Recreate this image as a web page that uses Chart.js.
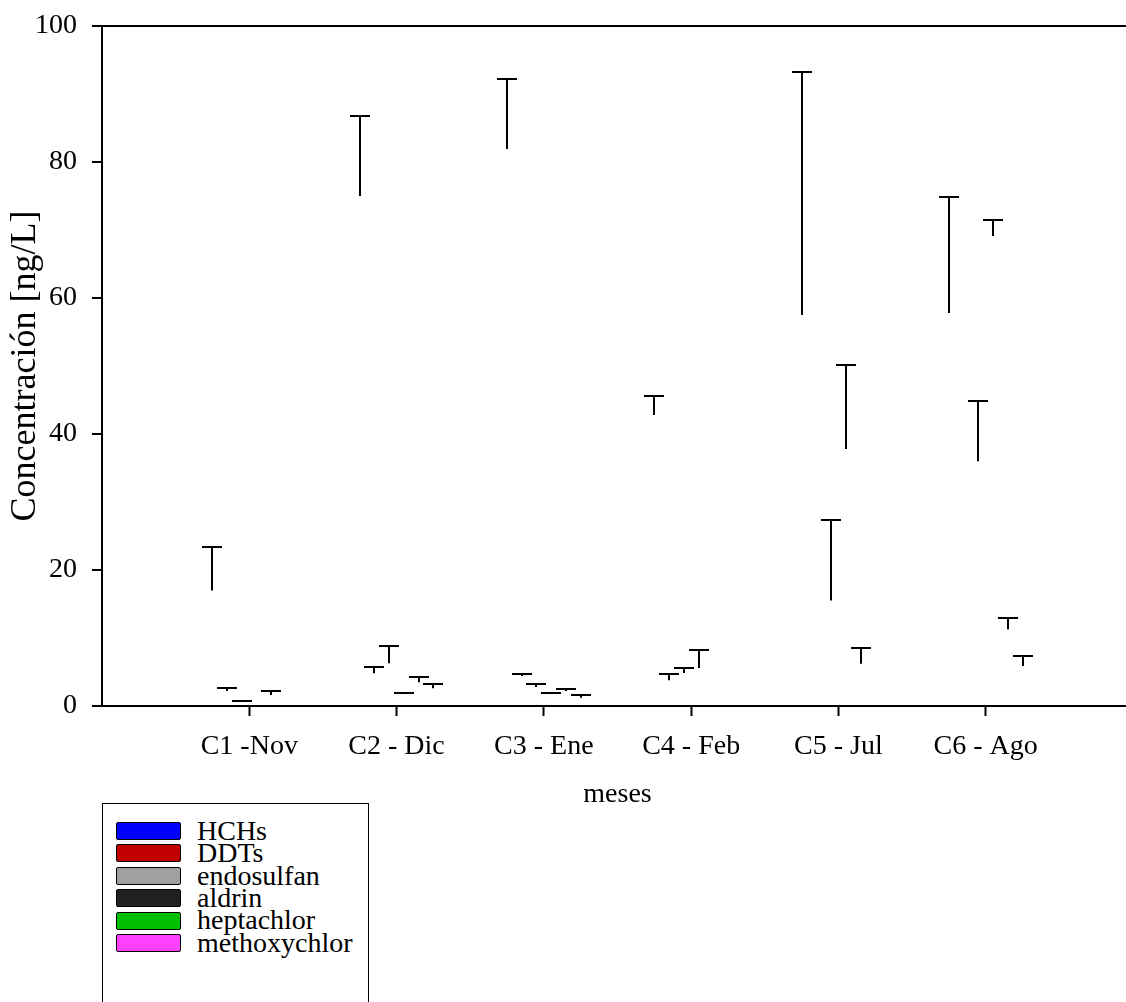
<!DOCTYPE html>
<html>
<head>
<meta charset="utf-8">
<script src="https://cdn.jsdelivr.net/npm/chart.js@4.4.1/dist/chart.umd.min.js"></script>
<style>
html,body{margin:0;padding:0;background:#fff;overflow:hidden;width:1126px;height:1002px;}
#wrap{position:relative;width:1133px;height:1002px;}
canvas{display:block;}
#legend{position:absolute;left:102px;top:803px;width:267px;height:240px;border:1px solid #000;box-sizing:border-box;font-family:'Liberation Serif',serif;font-size:28px;color:#000;background:#fff;}
.sw{position:absolute;left:13px;width:65px;height:18px;border:1.5px solid #000;box-sizing:border-box;border-radius:2px;}
.lb{position:absolute;left:94px;white-space:nowrap;line-height:28px;height:28px;}
</style>
</head>
<body>
<div id="wrap">
<canvas id="c" width="1133" height="1002"></canvas>
<div id="legend"></div>
</div>
<script>
// ---- data ----
const categories = ['C1 -Nov', 'C2 - Dic', 'C3 - Ene', 'C4 - Feb', 'C5 - Jul', 'C6 - Ago'];
const seriesNames = ['HCHs', 'DDTs', 'endosulfan', 'aldrin', 'heptachlor', 'methoxychlor'];
const seriesColors = ['#0000ff', '#c00000', '#a0a0a0', '#202020', '#00c000', '#ff40ff'];

const hchs            = [17.0, 75.0, 81.9, 42.8, 57.5, 57.8];
const hchsErr         = [6.4, 11.8, 10.3, 2.8, 35.7, 17.0];
const ddts            = [2.2, 4.8, 4.4, 3.8, null, null];
const ddtsErr         = [0.4, 1.0, 0.35, 0.9, 0, 0];
const endosulfan      = [0.6, 6.3, 2.8, 4.85, 15.5, 36.0];
const endosulfanErr   = [0.15, 2.5, 0.4, 0.75, 11.8, 8.9];
const aldrin          = [null, 1.9, 1.9, 5.6, 37.8, 69.1];
const aldrinErr       = [0, 0, 0, 2.7, 12.3, 2.4];
const heptachlor      = [1.6, 3.5, 2.2, null, 6.2, 11.3];
const heptachlorErr   = [0.6, 0.8, 0.25, 0, 2.3, 1.6];
const methoxychlor    = [null, 2.6, 1.2, null, null, 5.9];
const methoxychlorErr = [0, 0.7, 0.35, 0, 0, 1.4];

const yTicks = [0, 20, 40, 60, 80, 100];

const values = [hchs, ddts, endosulfan, aldrin, heptachlor, methoxychlor];
const errors = [hchsErr, ddtsErr, endosulfanErr, aldrinErr, heptachlorErr, methoxychlorErr];

// padded category axis: empty slot at both ends
const labels = ['', ...categories, ''];
const pad = a => [null, ...a, null];

const FONT = 'Liberation Serif';

const errorBars = {
  id: 'errorBars',
  afterDatasetsDraw(chart) {
    const ctx = chart.ctx, ys = chart.scales.y;
    ctx.save();
    ctx.strokeStyle = '#000';
    ctx.lineWidth = 2;
    chart.data.datasets.forEach((ds, i) => {
      const meta = chart.getDatasetMeta(i);
      meta.data.forEach((el, j) => {
        const v = ds.data[j], e = ds.err[j];
        if (v == null) return;
        const x = Math.round(el.x);
        const y0 = ys.getPixelForValue(v);
        const y1 = Math.round(ys.getPixelForValue(v + e));
        ctx.beginPath();
        ctx.moveTo(x, y0); ctx.lineTo(x, y1);
        ctx.moveTo(x - 10, y1); ctx.lineTo(x + 10, y1);
        ctx.stroke();
      });
    });
    ctx.restore();
  }
};

new Chart(document.getElementById('c'), {
  type: 'bar',
  data: {
    labels: labels,
    datasets: seriesNames.map((n, i) => ({
      label: n,
      data: pad(values[i]),
      err: pad(errors[i]),
      backgroundColor: 'rgba(0,0,0,0)',
      borderWidth: 0,
      categoryPercentage: 0.6,
      barPercentage: 1
    }))
  },
  options: {
    responsive: false,
    animation: false,
    devicePixelRatio: 1,
    layout: { padding: { top: 26, right: 0, bottom: 191, left: 0 } },
    plugins: { legend: { display: false }, tooltip: { enabled: false } },
    scales: {
      x: {
        offset: false,
        grid: {
          offset: false,
          drawOnChartArea: false,
          tickLength: 10,
          tickWidth: 2,
          tickColor: c => (c.index === 0 || c.index === labels.length - 1) ? 'rgba(0,0,0,0)' : '#000'
        },
        border: { display: true, color: '#000', width: 2 },
        ticks: { font: { family: FONT, size: 28 }, color: '#000', padding: 14, maxRotation: 0, autoSkip: false },
        title: { display: true, text: 'meses', font: { family: FONT, size: 28 }, color: '#000', padding: 0 },
        afterFit: s => { s.height = 105; s.paddingLeft = 0; s.paddingRight = 0; }
      },
      y: {
        min: 0, max: 100,
        afterBuildTicks: s => { s.ticks = yTicks.map(v => ({ value: v })); },
        ticks: { font: { family: FONT, size: 28 }, color: '#000', padding: 15 },
        grid: {
          tickLength: 10, tickWidth: 2, lineWidth: 2, tickColor: '#000',
          color: c => (c.tick && c.tick.value === 100) ? '#000' : 'rgba(0,0,0,0)'
        },
        border: { display: true, color: '#000', width: 2 },
        title: { display: true, text: 'Concentración [ng/L]', font: { family: FONT, size: 36 }, color: '#000', padding: { top: 4, bottom: 0 } },
        afterFit: s => { s.width = 102; s.paddingTop = 0; s.paddingBottom = 0; }
      }
    }
  },
  plugins: [errorBars]
});

// legend (HTML, real text)
const lg = document.getElementById('legend');
seriesNames.forEach((n, i) => {
  const cy = 831 + 22.4 * i - 804; // center relative to legend content box
  const sw = document.createElement('div');
  sw.className = 'sw';
  sw.style.top = (cy - 9) + 'px';
  sw.style.background = seriesColors[i];
  const lb = document.createElement('div');
  lb.className = 'lb';
  lb.style.top = (cy - 14.2) + 'px';
  lb.textContent = n;
  lg.appendChild(sw); lg.appendChild(lb);
});
</script>
</body>
</html>
